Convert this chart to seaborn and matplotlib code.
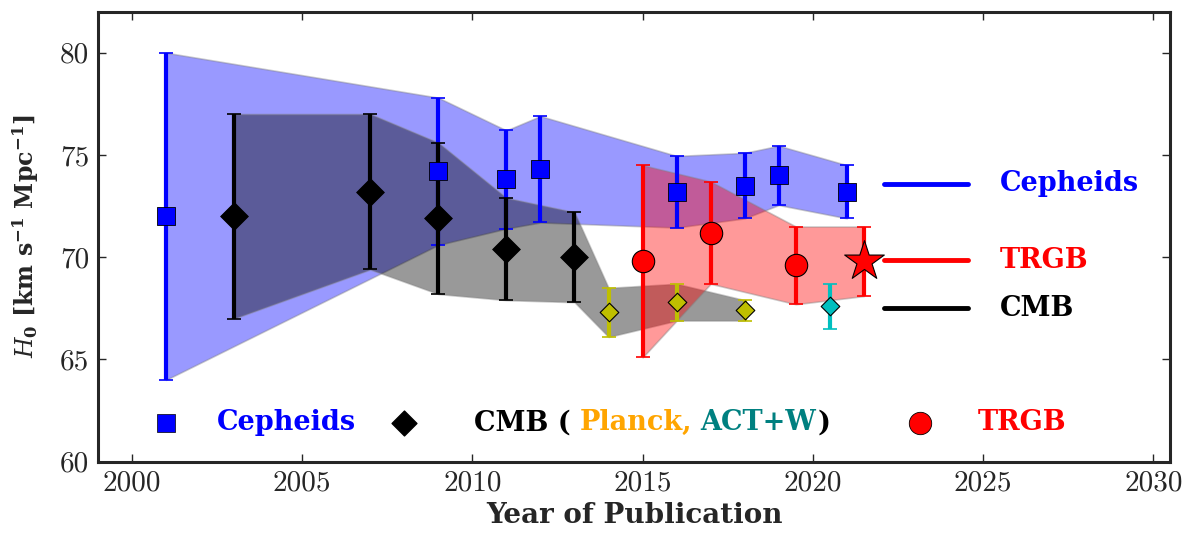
import numpy as np
import pandas as pd
import matplotlib
matplotlib.use('Agg')
import matplotlib.pyplot as plt
import seaborn as sns

# Cepheid distance ladder
ceph_year = [2001, 2009, 2011, 2012, 2016, 2018, 2019, 2021]
ceph_h0 = [72.0, 74.2, 73.8, 74.3, 73.2, 73.5, 74.0, 73.2]
ceph_err = [8.0, 3.6, 2.4, 2.6, 1.75, 1.6, 1.45, 1.3]

# CMB (WMAP era)
cmb_year = [2003, 2007, 2009, 2011, 2013]
cmb_h0 = [72.0, 73.2, 71.9, 70.4, 70.0]
cmb_err = [5.0, 3.8, 3.7, 2.5, 2.2]

# Planck
planck_year = [2014, 2016, 2018]
planck_h0 = [67.3, 67.8, 67.4]
planck_err = [1.2, 0.9, 0.5]

# ACT+WMAP
act_year = [2020.5]
act_h0 = [67.6]
act_err = [1.1]

# TRGB
trgb_year = [2015, 2017, 2019.5]
trgb_h0 = [69.8, 71.2, 69.6]
trgb_err = [4.7, 2.5, 1.9]
star_year = [2021.5]
star_h0 = [69.8]
star_err = [1.7]

sns.set_style('ticks')
plt.rcParams['font.family'] = ['cmr10', 'DejaVu Serif']
plt.rcParams['mathtext.fontset'] = 'custom'
plt.rcParams['mathtext.rm'] = 'DejaVu Serif:bold'
plt.rcParams['mathtext.it'] = 'DejaVu Serif:italic'
plt.rcParams['mathtext.bf'] = 'DejaVu Serif:bold'
plt.rcParams['axes.formatter.use_mathtext'] = False
plt.rcParams['axes.unicode_minus'] = False

BOLD = dict(family='DejaVu Serif', weight='bold')
fs = 19.5

fig, ax = plt.subplots(figsize=(11.93, 5.35), dpi=100)

# bands
cy = np.array(ceph_year); ch = np.array(ceph_h0); ce = np.array(ceph_err)
ax.fill_between(cy, ch - ce, ch + ce, facecolor='blue', alpha=0.4,
                edgecolor='gray', lw=1.2, zorder=1)
gy = np.array(cmb_year + planck_year)
gh = np.array(cmb_h0 + planck_h0)
ge = np.array(cmb_err + planck_err)
ax.fill_between(gy, gh - ge, gh + ge, facecolor='black', alpha=0.4,
                edgecolor='gray', lw=1.2, zorder=1)
ty = np.array(trgb_year + star_year)
th = np.array(trgb_h0 + star_h0)
te = np.array(trgb_err + star_err)
ax.fill_between(ty, th - te, th + te, facecolor='red', alpha=0.4,
                edgecolor='gray', lw=1.2, zorder=1)

# error bars
for x, y, e, c in [(ceph_year, ceph_h0, ceph_err, 'blue'),
                   (cmb_year, cmb_h0, cmb_err, 'black'),
                   (planck_year, planck_h0, planck_err, 'y'),
                   (act_year, act_h0, act_err, 'c'),
                   (trgb_year, trgb_h0, trgb_err, 'red'),
                   (star_year, star_h0, star_err, 'red')]:
    ax.errorbar(x, y, yerr=e, fmt='none', ecolor=c, elinewidth=3,
                capsize=5, capthick=1.2, zorder=2)

# markers
sns.scatterplot(x=ceph_year, y=ceph_h0, marker='s', s=155, color='blue',
                edgecolor='black', linewidth=0.6, zorder=3, ax=ax)
sns.scatterplot(x=cmb_year, y=cmb_h0, marker='D', s=200, color='black',
                edgecolor='black', linewidth=0.6, zorder=3, ax=ax)
sns.scatterplot(x=planck_year, y=planck_h0, marker='D', s=90, color='y',
                edgecolor='black', linewidth=0.8, zorder=3, ax=ax)
sns.scatterplot(x=act_year, y=act_h0, marker='D', s=90, color='c',
                edgecolor='black', linewidth=0.8, zorder=3, ax=ax)
sns.scatterplot(x=trgb_year, y=trgb_h0, marker='o', s=260, color='red',
                edgecolor='black', linewidth=0.8, zorder=3, ax=ax)
sns.scatterplot(x=star_year, y=star_h0, marker='*', s=900, color='red',
                edgecolor='black', linewidth=0.8, zorder=3, ax=ax)

# right-hand legend
for yy, c, lab in [(73.6, 'blue', 'Cepheids'), (69.85, 'red', 'TRGB'),
                   (67.5, 'black', 'CMB')]:
    ax.plot([2022.1, 2024.55], [yy, yy], color=c, lw=3.5)
    ax.text(2025.5, yy, lab, color=c, fontsize=fs, va='center', ha='left', **BOLD)

# bottom legend
ly = 61.9
ax.scatter([2001], [ly], marker='s', s=155, color='blue', edgecolor='black', lw=0.5)
ax.text(2002.5, ly, 'Cepheids', color='blue', fontsize=fs, va='center', **BOLD)
ax.scatter([2008], [ly], marker='D', s=160, color='black')
t_cmb = ax.text(2010.06, ly, 'CMB (', color='black', fontsize=fs, va='center', **BOLD)
t_pl = ax.annotate('Planck,', xy=(1, 0.5), xycoords=t_cmb, xytext=(6, 0),
                   textcoords='offset points', color='orange', fontsize=fs,
                   va='center', ha='left', **BOLD)
t_act = ax.annotate('ACT+W', xy=(1, 0.5), xycoords=t_pl, xytext=(6, 0),
                    textcoords='offset points', color='teal', fontsize=fs,
                    va='center', ha='left', **BOLD)
ax.annotate(')', xy=(1, 0.5), xycoords=t_act, xytext=(1, 0),
            textcoords='offset points', color='black', fontsize=fs,
            va='center', ha='left', **BOLD)
ax.scatter([2023.15], [ly], marker='o', s=260, color='red', edgecolor='black', lw=0.6)
ax.text(2024.85, ly, 'TRGB', color='red', fontsize=fs, va='center', **BOLD)

ax.set_xlim(1999, 2030.5)
ax.set_ylim(60, 82)
ax.set_xticks(range(2000, 2031, 5))
ax.set_yticks(range(60, 81, 5))
ax.tick_params(direction='in', top=True, right=True, length=6, width=1,
               labelsize=21, pad=6)
for sp in ax.spines.values():
    sp.set_linewidth(2.2)
ax.set_xlabel('Year of Publication', fontsize=20, labelpad=4, **BOLD)
ax.set_ylabel(r'$H_0$ [km s$^{-1}$ Mpc$^{-1}$]', fontsize=17, labelpad=14, **BOLD)

plt.subplots_adjust(left=0.082, right=0.981, top=0.978, bottom=0.137)
plt.savefig('out.png', dpi=100)
